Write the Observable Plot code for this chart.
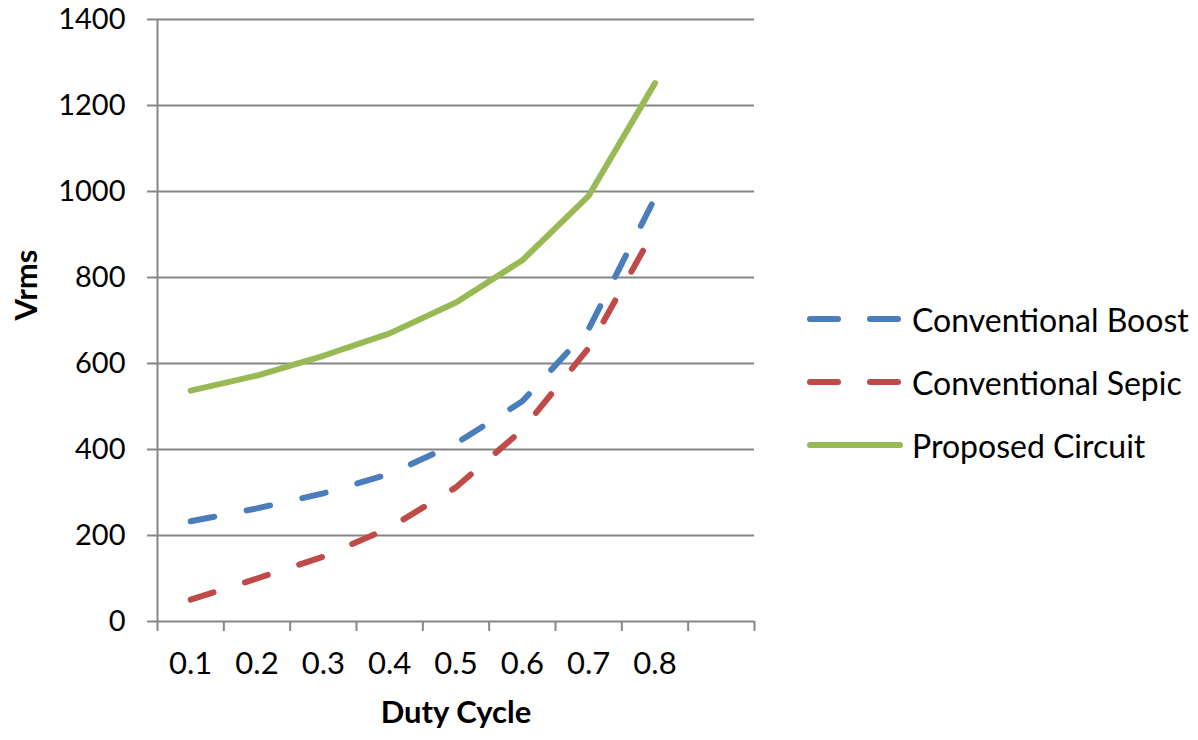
<!DOCTYPE html>
<html>
<head>
<meta charset="utf-8">
<script src="https://cdn.jsdelivr.net/npm/d3@7"></script>
<script src="https://cdn.jsdelivr.net/npm/@observablehq/plot@0.6"></script>
<style>
  html, body { margin: 0; padding: 0; background: #fff; }
  #chart { position: relative; width: 1198px; height: 740px; font-family: Lato, "Open Sans", sans-serif; }
  #legend { position: absolute; left: 806px; top: 298px; }
  .row { display: flex; align-items: center; height: 42px; margin-bottom: 21px; font-size: 32px; color: #000; }
  .row svg { margin-right: 6px; }
</style>
</head>
<body>
<div id="chart"></div>
<script>
// Duty cycle categories and their tick labels
const dutyCycle = [0.1, 0.2, 0.3, 0.4, 0.5, 0.6, 0.7, 0.8];
const dutyLabels = ["0.1", "0.2", "0.3", "0.4", "0.5", "0.6", "0.7", "0.8"];
// Category boundaries (tick marks between labels, one spare slot at the end)
const dutyBounds = [0.05, 0.15, 0.25, 0.35, 0.45, 0.55, 0.65, 0.75, 0.85, 0.95];

// RMS voltage of each converter
const boostVrms = [233, 263, 298, 343, 414, 512, 680, 985];
const sepicVrms = [51, 100, 151, 218, 312, 446, 636, 912];
const proposedVrms = [537, 572, 618, 670, 742, 840, 990, 1252];

const yTicks = [0, 200, 400, 600, 800, 1000, 1200, 1400];

const seriesNames = ["Conventional Boost", "Conventional Sepic", "Proposed Circuit"];
const seriesColors = ["#4a7ebb", "#be4b48", "#98b954"];
const seriesDash = ["24 33", "24 33", null];
const seriesValues = [boostVrms, sepicVrms, proposedVrms];

const rows = seriesNames.flatMap((name, s) =>
  dutyCycle.map((d, i) => ({series: name, duty: d, vrms: seriesValues[s][i]}))
);

const gridColor = "#868686";

const chart = Plot.plot({
  width: 1198,
  height: 740,
  marginLeft: 157,
  marginRight: 444,
  marginTop: 19,
  marginBottom: 119,
  style: {fontFamily: "Lato, 'Open Sans', sans-serif", color: "#000", background: "#fff"},
  x: {type: "linear", domain: [0.05, 0.95], axis: null},
  y: {domain: [0, 1400], axis: null},
  marks: [
    Plot.gridY(yTicks, {stroke: gridColor, strokeWidth: 2, strokeOpacity: 1}),
    Plot.ruleX([0.05], {stroke: gridColor, strokeWidth: 2}),
    Plot.axisY(yTicks, {
      tickSize: 10, tickPadding: 22, fontSize: 29,
      tickFormat: d => String(d),
      stroke: gridColor, strokeWidth: 2, label: null
    }),
    Plot.axisX(dutyBounds, {
      tickSize: 10, tickFormat: () => "", stroke: gridColor, strokeWidth: 2, label: null
    }),
    Plot.axisX(dutyCycle, {
      tickSize: 0, tickPadding: 30, fontSize: 31,
      tickFormat: (d, i) => dutyLabels[i], label: null
    }),
    Plot.text(["Duty Cycle"], {
      frameAnchor: "bottom", dy: 101, fontSize: 31, fontWeight: "bold", fill: "#000"
    }),
    Plot.text(["Vrms"], {
      frameAnchor: "left", dx: -130, rotate: -90, fontSize: 31, fontWeight: "bold", fill: "#000"
    }),
    ...seriesNames.map((name, s) =>
      Plot.line(rows.filter(r => r.series === name), {
        x: "duty", y: "vrms",
        stroke: seriesColors[s], strokeWidth: 6,
        strokeDasharray: seriesDash[s],
        strokeLinecap: "round", strokeLinejoin: "round"
      })
    )
  ]
});

const host = document.getElementById("chart");
host.appendChild(chart);

// Legend to the right of the plot area
const legend = document.createElement("div");
legend.id = "legend";
seriesNames.forEach((name, s) => {
  const row = document.createElement("div");
  row.className = "row";
  const dash = seriesDash[s] ? "28 32" : "none";
  row.innerHTML =
    `<svg width="100" height="10"><line x1="4" y1="5" x2="94" y2="5" stroke="${seriesColors[s]}" ` +
    `stroke-width="6" stroke-linecap="round" stroke-dasharray="${dash}"/></svg><span>${name}</span>`;
  legend.appendChild(row);
});
host.appendChild(legend);
</script>
</body>
</html>
